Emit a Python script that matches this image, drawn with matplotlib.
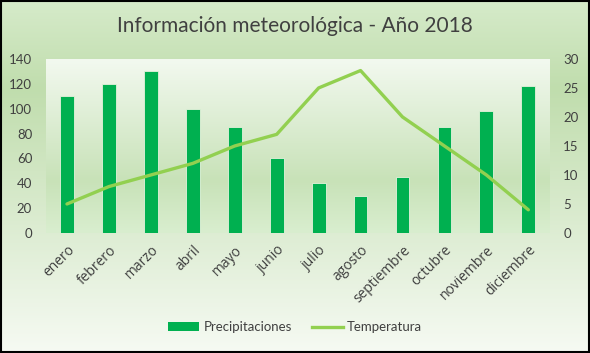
import matplotlib.pyplot as plt
import numpy as np
from matplotlib.colors import LinearSegmentedColormap
from matplotlib.patches import Patch, Rectangle
from matplotlib.lines import Line2D

# datos
meses = ["enero", "febrero", "marzo", "abril", "mayo", "junio", "julio",
         "agosto", "septiembre", "octubre", "noviembre", "diciembre"]
precipitaciones = [110, 120, 130, 100, 85, 60, 40, 30, 45, 85, 98, 118]
temperatura = [5, 8, 10, 12, 15, 17, 25, 28, 20, 15, 10, 4]

verde = "#00b050"
verde_claro = "#92d050"
gris = "#404040"

plt.rcParams['font.family'] = ['Lato', 'DejaVu Sans']

fig = plt.figure(figsize=(5.9, 3.53), dpi=100)

# fondo degradado de la figura
fondo = fig.add_axes([0, 0, 1, 1], zorder=-10)
cmap_fig = LinearSegmentedColormap.from_list(
    "fig", [(0, "#f6faf3"), (0.75, "#c0ddad"), (1, "#d6ebca")])
grad = np.linspace(0, 1, 256).reshape(-1, 1)
fondo.imshow(grad, cmap=cmap_fig, aspect="auto", extent=[0, 1, 0, 1])
fondo.set_xlim(0, 1)
fondo.set_ylim(1, 0)
fondo.axis("off")
fondo.add_patch(Rectangle((0.001, 0.002), 0.997, 0.995, fill=False,
                          edgecolor="black", linewidth=1.5,
                          transform=fondo.transAxes))

ax = fig.add_axes([0.078, 0.340, 0.853, 0.493])
ax2 = ax.twinx()

# degradado del area de trazado
cmap_ax = LinearSegmentedColormap.from_list(
    "ax", [(0, "#f3f9f0"), (0.7, "#c8e2b8"), (1, "#d9eecf")])
ax.imshow(grad, cmap=cmap_ax, aspect="auto", extent=[-0.5, 11.5, 0, 140],
          zorder=0)

x = np.arange(len(meses))
ax.bar(x, precipitaciones, width=0.33, color=verde, edgecolor="#e6f2dc",
       linewidth=0.6, zorder=2)
ax2.plot(x, temperatura, color=verde_claro, linewidth=2.4,
         solid_capstyle="round", zorder=3)

ax.set_xlim(-0.5, 11.5)
ax.set_ylim(0, 140)
ax.set_yticks(range(0, 141, 20))
ax2.set_ylim(0, 30)
ax2.set_yticks(range(0, 31, 5))

ax.set_xticks(x)
ax.set_xticklabels(meses, rotation=45, ha="right", va="top",
                   rotation_mode="anchor", family=["Open Sans", "DejaVu Sans"],
                   fontsize=10)

for a in (ax, ax2):
    for s in a.spines.values():
        s.set_visible(False)
    a.tick_params(length=0, labelsize=9.5, colors=gris)
ax.tick_params(axis="x", labelsize=10, pad=7)
ax.tick_params(axis="y", pad=10)
ax2.tick_params(axis="y", pad=10)

fig.text(0.5, 0.925, "Información meteorológica - Año 2018", ha="center",
         va="center", fontsize=15, color=gris)

handles = [Patch(facecolor=verde, edgecolor="none"),
           Line2D([0], [0], color=verde_claro, linewidth=2.4)]
fig.legend(handles, ["Precipitaciones", "Temperatura"], loc="center",
           bbox_to_anchor=(0.5, 0.073), ncol=2, frameon=False,
           fontsize=9.5, labelcolor=gris, handlelength=2.4,
           handletextpad=0.3, columnspacing=1.5)

fig.savefig("out.png", dpi=100)
